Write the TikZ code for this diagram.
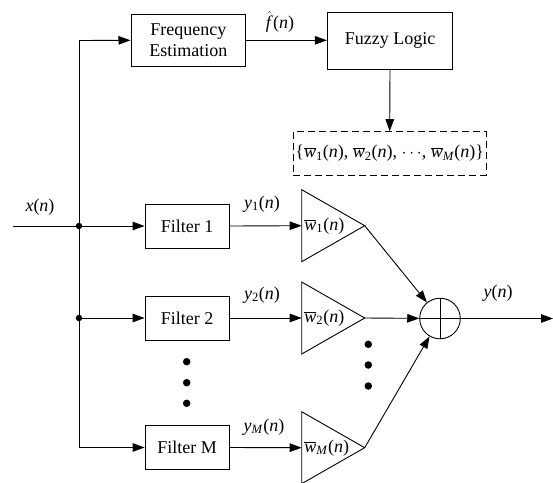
\documentclass[tikz,border=0pt]{standalone}
\usepackage{fontspec}
\setmainfont{Liberation Serif}
\usetikzlibrary{arrows.meta}
\newcommand{\vv}[1]{\textit{#1}}
\newcommand{\sg}[2]{\textit{#1}\textsubscript{#2}(\textit{n})}
\newcommand{\wb}[1]{$\overline{\mbox{\textit{w}}}$\textsubscript{#1}(\textit{n})}
\begin{document}
\begin{tikzpicture}[x=1pt,y=-1pt,
  font=\fontsize{18}{21}\selectfont,
  line width=0.9pt,
  arr/.style={-{Triangle[length=12pt,width=8.5pt]}},
  blk/.style={draw, rectangle, inner sep=0pt, align=center},
  lbl/.style={inner sep=0pt},
  jdot/.style={circle, fill, inner sep=0pt, minimum size=6.5pt},
  bdot/.style={circle, fill, inner sep=0pt, minimum size=7.5pt},
  tri/.style={draw, line join=miter}]
\useasboundingbox (0,0) rectangle (553,482);
% blocks
\node[blk, minimum width=114.7pt, minimum height=52.7pt] (fe) at (188.3,40.3) {Frequency\\Estimation};
\node[blk, minimum width=125.4pt, minimum height=56.7pt] (fl) at (390,40.7) {Fuzzy Logic};
\node[blk, dashed, dash pattern=on 7pt off 4pt, minimum width=192.7pt, minimum height=43.3pt] (ws) at (389.7,153.3)
  {\{\wb{1}, \wb{2}, $\cdots$, \wb{\textit{M}}\}};
\node[blk, minimum width=84.3pt, minimum height=44pt] (f1) at (187.2,226) {Filter 1};
\node[blk, minimum width=84.3pt, minimum height=44pt] (f2) at (187.2,318) {Filter 2};
\node[blk, minimum width=84.3pt, minimum height=44pt] (fm) at (187.2,447.5) {Filter M};
\node[draw, circle, inner sep=0pt, minimum size=40.6pt] (sum) at (440,318.5) {};
\draw (sum.north) -- (sum.south) (sum.west) -- (sum.east);
% coordinates
\coordinate (xin) at (12.7,226);
\coordinate (j1) at (79,226);
\coordinate (j2) at (79,318);
\coordinate (jt) at (79,40.5);
\coordinate (jb) at (79,447.5);
\coordinate (yout) at (553,318.5);
% triangles
\foreach \n/\yy in {1/225.7,2/318,m/447.7}{
  \draw[tri] (301.7,\yy-36) -- (364.7,\yy) -- (301.7,\yy+36) -- cycle;
  \coordinate (t\n in) at (301.7,\yy);
  \coordinate (t\n out) at (364.7,\yy);
}
\node[lbl, anchor=west] (w1) at (304,225.7) {\wb{1}};
\node[lbl, anchor=west] (w2) at (304,318) {\wb{2}};
\node[lbl, anchor=west] (wm) at (304,447.7) {\wb{\textit{M}}};
% input and bus
\draw (xin) -- (j1);
\draw (jt) -- (jb);
\node[jdot] (d1) at (j1) {};
\node[jdot] (d2) at (j2) {};
\draw[arr] (jt) -- (fe.west);
\draw[arr] (j1) -- (f1.west);
\draw[arr] (j2) -- (f2.west);
\draw[arr] (jb) -- (fm.west);
\draw[arr] (fe.east) -- (fe.east -| fl.west);
\draw[arr] (fl.south) -- (ws.north);
\draw[arr] (f1.east) -- (t1in);
\draw[arr] (f2.east) -- (t2in);
\draw[arr] (fm.east) -- (tmin);
\draw[arr] (t1out) -- (sum);
\draw[arr] (t2out) -- (sum);
\draw[arr] (tmout) -- (sum);
\draw[arr] (sum) -- (yout);
% labels
\node[lbl] (lx) at (40,207) {\vv{x}(\vv{n})};
\node[lbl] (lf) at (280,22) {$\hat{\mbox{\textit{f}}}$(\vv{n})};
\node[lbl] (ly1) at (262,204) {\sg{y}{1}};
\node[lbl] (ly2) at (262,295) {\sg{y}{2}};
\node[lbl] (lym) at (264,427) {\sg{y}{\textit{M}}};
\node[lbl] (ly) at (498,293) {\vv{y}(\vv{n})};
% ellipsis dots
\foreach \yy [count=\i] in {361.7,382.7,403.3}{
  \node[bdot] (fd\i) at (186.7,\yy) {};
}
\foreach \yy [count=\i] in {344.3,365,386}{
  \node[bdot] (td\i) at (368.3,\yy) {};
}
\end{tikzpicture}
\end{document}
